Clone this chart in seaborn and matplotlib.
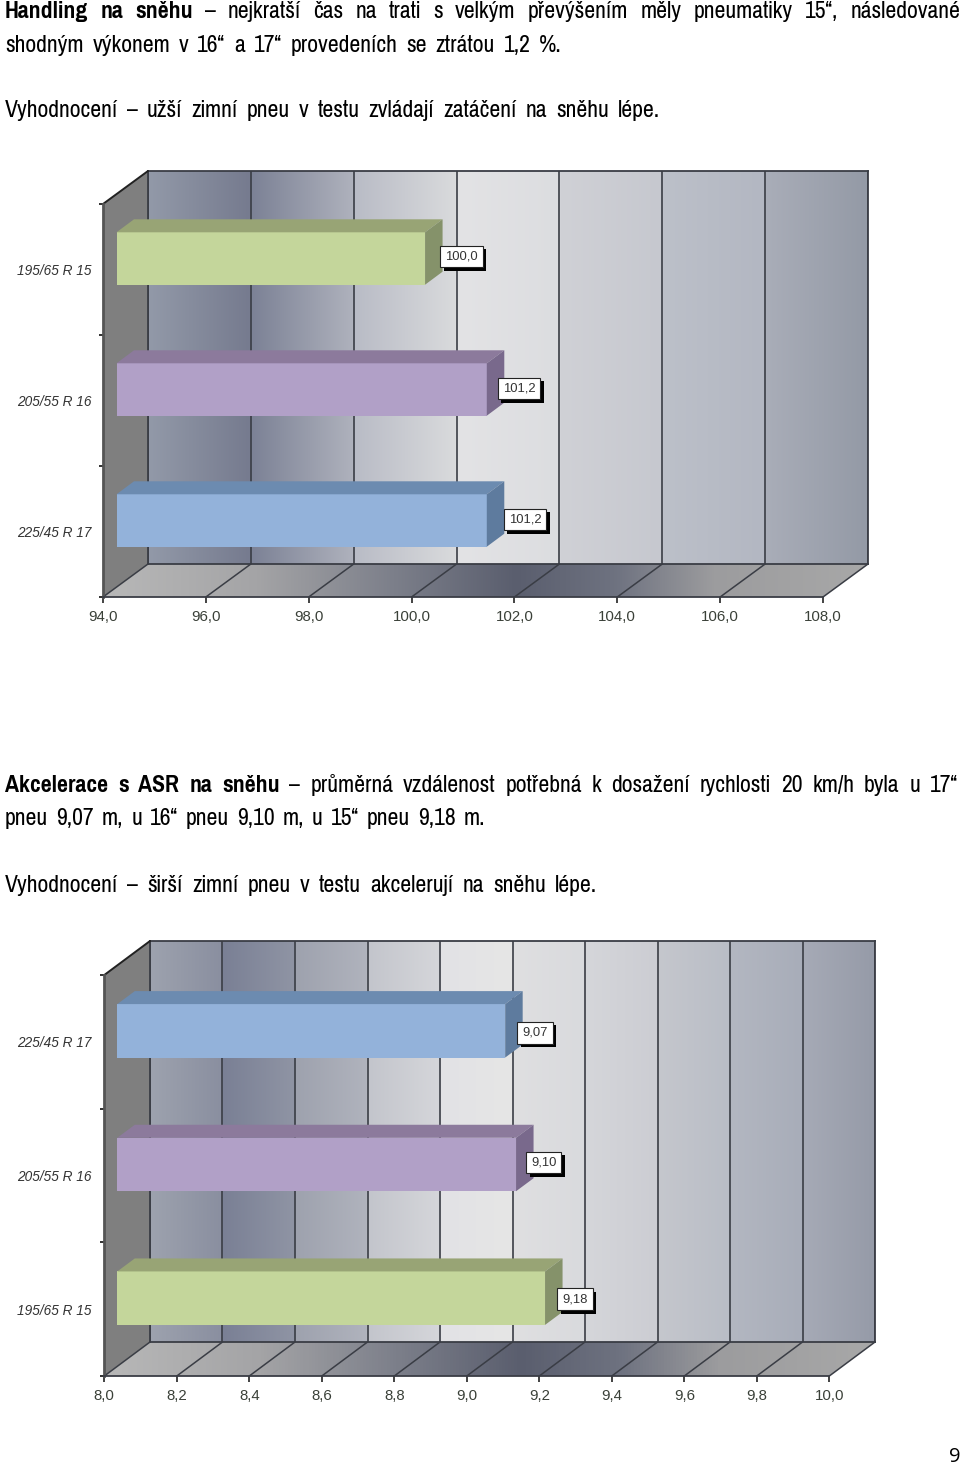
import numpy as np
import pandas as pd
import matplotlib
matplotlib.use("Agg")
import matplotlib.pyplot as plt
import matplotlib.patheffects as pe
from matplotlib.colors import LinearSegmentedColormap, to_rgb
from matplotlib.patches import Polygon
import seaborn as sns

sns.set_theme(style="white")
plt.rcParams["font.family"] = ["Liberation Sans", "DejaVu Sans"]
BODY_FONT = ["Pragati Narrow", "Liberation Sans", "DejaVu Sans"]

# data
handling_tyres = ["195/65 R 15", "205/55 R 16", "225/45 R 17"]
handling_values = [100.0, 101.2, 101.2]
handling_labels = ["100,0", "101,2", "101,2"]
handling_ticks = [94, 96, 98, 100, 102, 104, 106, 108]
handling_ticklabels = ["94,0", "96,0", "98,0", "100,0", "102,0", "104,0", "106,0", "108,0"]

accel_tyres = ["225/45 R 17", "205/55 R 16", "195/65 R 15"]
accel_values = [9.07, 9.10, 9.18]
accel_labels = ["9,07", "9,10", "9,18"]
accel_ticks = [8.0, 8.2, 8.4, 8.6, 8.8, 9.0, 9.2, 9.4, 9.6, 9.8, 10.0]
accel_ticklabels = ["8,0", "8,2", "8,4", "8,6", "8,8", "9,0", "9,2", "9,4", "9,6", "9,8", "10,0"]

# face / top / side colours per tyre size
TYRE_COLORS = {
    "195/65 R 15": ("#c4d69b", "#98a475", "#85926a"),
    "205/55 R 16": ("#b1a0c7", "#8c7a9c", "#79698c"),
    "225/45 R 17": ("#93b2da", "#6c8bb0", "#5e7b9e"),
}

handling_wall = [("#9299a8", "#767b8f"), ("#7c8296", "#aeb1bc"), ("#b9bcc6", "#d9dadc"),
                 ("#e3e3e5", "#dcdde0"), ("#d0d1d6", "#c6c8cf"), ("#bcc0c9", "#b3b7c2"),
                 ("#a9adb8", "#949aa6")]
accel_wall = [("#9da2ae", "#8a8fa0"), ("#7a8095", "#8f94a4"), ("#9ea2ae", "#b0b3bd"),
              ("#c3c5cc", "#d5d6da"), ("#e2e2e5", "#e6e6e6"), ("#dfdfe1", "#d9dadd"),
              ("#d5d6da", "#cccdd3"), ("#c5c7cd", "#b9bdc6"), ("#b3b7c1", "#a8adb9"),
              ("#a6aab6", "#969ba8")]
floor_cmap = LinearSegmentedColormap.from_list("floor", [
    (0.0, "#b8b8b8"), (0.2, "#a4a4a6"), (0.38, "#7c7f8a"), (0.54, "#5a5e6e"),
    (0.67, "#6e7280"), (0.8, "#9c9c9e"), (1.0, "#a8a8a8")])

W, H = 960, 1466
LINE = "#3a3d45"
FS = 18.6

fig = plt.figure(figsize=(W / 100, H / 100), dpi=100, facecolor="white")


def px_axes(left, top, right, bottom, z):
    ax = fig.add_axes([left / W, 1 - bottom / H, (right - left) / W, (bottom - top) / H], zorder=z)
    ax.patch.set_alpha(0)
    return ax


page = px_axes(0, 0, W, H, 0)
page.axis("off")


def put_line(segments, y, x1, x0=5):
    # segments are (text, bold); the words are spread from x0 to x1
    rend = fig.canvas.get_renderer()
    words = []
    for text, bold in segments:
        for w in text.split(" "):
            t = page.text(x0, y, w, family=BODY_FONT, fontsize=FS, color="black", va="baseline",
                          fontweight="bold" if bold else "normal")
            words.append((t, t.get_window_extent(rend).width))
    gap = (x1 - x0 - sum(w for _, w in words)) / (len(words) - 1)
    x = x0
    for t, w in words:
        t.set_x(x)
        x += w + gap


def bar_chart(tyres, values, labels, ticks, ticklabels, wall, front, depth, bar_shift, label_dx, label_dy, name_pad):
    left, top, right, bottom = front
    dpx, dpy = depth
    xmin, xmax = ticks[0], ticks[-1]
    unit_x = (xmax - xmin) / (right - left)
    unit_y = len(tyres) / (bottom - top)
    ddx, ddy = dpx * unit_x, dpy * unit_y

    # walls and floor sit on the page in pixels
    page.add_patch(Polygon([(left, top), (left + dpx, top - dpy), (left + dpx, bottom - dpy), (left, bottom)],
                           closed=True, fc="#7f7f7f", ec="none", zorder=1))
    grad = page.imshow(np.linspace(0, 1, 256)[None, :], cmap=floor_cmap, aspect="auto", zorder=1,
                       extent=[left, right + dpx, bottom, bottom - dpy])
    floor = Polygon([(left, bottom), (left + dpx, bottom - dpy), (right + dpx, bottom - dpy), (right, bottom)],
                    closed=True, transform=page.transData)
    grad.set_clip_path(floor)
    page.set_xlim(0, W)
    page.set_ylim(H, 0)

    # back wall, panel by panel
    back = px_axes(left + dpx, top - dpy, right + dpx, bottom - dpy, 1)
    row = np.vstack([np.linspace(to_rgb(a), to_rgb(b), 32) for a, b in wall])
    back.imshow(row[None, :, :], aspect="auto", extent=[xmin, xmax, 0, 1], interpolation="bilinear")
    back.set_xlim(xmin, xmax)
    back.set_xticks(ticks)
    back.set_yticks([])
    back.tick_params(length=0, labelbottom=False)
    back.grid(axis="x", color=LINE, lw=1.2)
    for s in back.spines.values():
        s.set_color(LINE)
        s.set_linewidth(1.3)

    # front plane carries the axis
    ax = px_axes(left, top, right, bottom, 2)
    ax.set_xlim(xmin, xmax)
    ax.set_ylim(len(tyres) - 0.5, -0.5)
    ax.set_xticks(ticks, labels=ticklabels)
    ax.set_yticks(range(len(tyres)), labels=tyres, fontstyle="italic", fontsize=9.8, color="#333333")
    ax.set_yticks(np.arange(len(tyres) + 1) - 0.5, minor=True)
    ax.tick_params(axis="y", which="major", length=0, pad=name_pad)
    ax.tick_params(axis="y", which="minor", length=3, width=1.3, color="#222222", left=True)
    ax.tick_params(axis="x", length=4, width=1.2, color="#222222", labelsize=10.8, labelcolor="#3a4038", pad=5.5,
                   bottom=True)
    for side in ["top", "right"]:
        ax.spines[side].set_visible(False)
    ax.spines["left"].set_color("#555555")
    ax.spines["left"].set_linewidth(2)
    ax.spines["bottom"].set_color(LINE)
    ax.spines["bottom"].set_linewidth(1.3)
    ybot = len(tyres) - 0.5
    for t in ticks:
        ax.plot([t, t + ddx], [ybot, ybot - ddy], color=LINE, lw=1.1, clip_on=False)
    ax.plot([xmin, xmin + ddx], [-0.5, -0.5 - ddy], color="#222222", lw=1.4, clip_on=False)

    # bars stand a little behind the front plane
    sx, sy = bar_shift
    bars = px_axes(left + sx, top - sy, right + sx, bottom - sy, 3)
    df = pd.DataFrame({"tyre": tyres, "value": values})
    sns.barplot(data=df, x="value", y="tyre", hue="tyre", palette=[TYRE_COLORS[t][0] for t in tyres],
                orient="y", width=0.4, saturation=1, legend=False, linewidth=0, ax=bars)
    bars.set_xlim(xmin, xmax)
    bars.set_ylim(len(tyres) - 0.5, -0.5)
    bars.axis("off")
    bx, by = 17.5 * unit_x, 13 * unit_y
    for i, (tyre, val, lab) in enumerate(zip(tyres, values, labels)):
        _, top_col, side_col = TYRE_COLORS[tyre]
        y0, y1 = i - 0.2, i + 0.2
        bars.add_patch(Polygon([(xmin, y0), (xmin + bx, y0 - by), (val + bx, y0 - by), (val, y0)],
                               closed=True, fc=top_col, ec="none", clip_on=False))
        bars.add_patch(Polygon([(val, y0), (val + bx, y0 - by), (val + bx, y1 - by), (val, y1)],
                               closed=True, fc=side_col, ec="none", clip_on=False))
        note = bars.annotate(lab, xy=(val, i), xytext=(label_dx[i] * 0.72, label_dy[i] * 0.72),
                             textcoords="offset points", ha="left", va="center", fontsize=9.4, color="#333333",
                             bbox=dict(boxstyle="square,pad=0.38", fc="white", ec="#222222", lw=0.8),
                             annotation_clip=False, zorder=6)
        note.get_bbox_patch().set_path_effects(
            [pe.SimplePatchShadow(offset=(2.6, -2.6), shadow_rgbFace="black", alpha=1), pe.Normal()])


put_line([("Handling na sněhu", True),
          ("– nejkratší čas na trati s velkým převýšením měly pneumatiky 15“, následované", False)], 18, 960)
put_line([("shodným výkonem v 16“ a 17“ provedeních se ztrátou 1,2 %.", False)], 52, 562)
put_line([("Vyhodnocení – užší zimní pneu v testu zvládají zatáčení na sněhu lépe.", False)], 117, 660)
put_line([("Akcelerace s ASR na sněhu", True),
          ("– průměrná vzdálenost potřebná k dosažení rychlosti 20 km/h byla u 17“", False)], 792, 958)
put_line([("pneu 9,07 m, u 16“ pneu 9,10 m, u 15“ pneu 9,18 m.", False)], 825, 485)
put_line([("Vyhodnocení – širší zimní pneu v testu akcelerují na sněhu lépe.", False)], 892, 597)

bar_chart(handling_tyres, handling_values, handling_labels, handling_ticks, handling_ticklabels, handling_wall,
          front=(103, 204, 823, 597), depth=(45, 33), bar_shift=(13.5, 11),
          label_dx=[20, 16, 22], label_dy=[2, 1, 1], name_pad=8)
bar_chart(accel_tyres, accel_values, accel_labels, accel_ticks, accel_ticklabels, accel_wall,
          front=(104.3, 975, 829.3, 1376), depth=(45.7, 34), bar_shift=(13, 11),
          label_dx=[17, 15, 17], label_dy=[-2, 2, -1], name_pad=9.5)

page.text(955, 1462, "9", family=["Open Sans", "DejaVu Sans"], fontsize=14.5, color="black", ha="center", va="baseline")

fig.savefig("out.png", dpi=100, facecolor="white")
